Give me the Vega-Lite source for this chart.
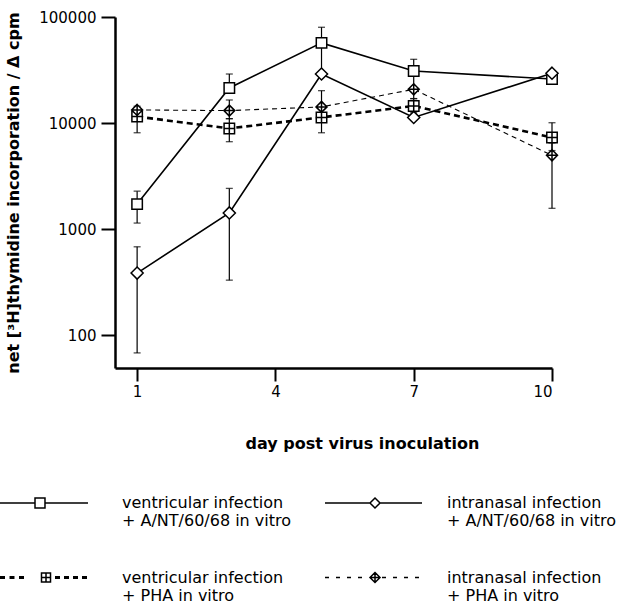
{
  "$schema": "https://vega.github.io/schema/vega-lite/v6.json",
  "width": 437,
  "height": 351,
  "autosize": {"type": "none"},
  "padding": {"left": 115, "top": 17, "right": 67, "bottom": 243},
  "background": "white",
  "config": {
    "view": {"stroke": null},
    "font": "DejaVu Sans",
    "axis": {"labelFont": "DejaVu Sans", "titleFont": "DejaVu Sans", "labelColor": "black", "titleColor": "black", "domainColor": "black", "tickColor": "black", "grid": false}
  },
  "data": {
    "values": [
      {"series": "ventricular infection|+ A/NT/60/68 in vitro", "day": 1, "value": 1720, "lo": 1140, "hi": 2280},
      {"series": "ventricular infection|+ A/NT/60/68 in vitro", "day": 3, "value": 21400, "lo": 21400, "hi": 29000},
      {"series": "ventricular infection|+ A/NT/60/68 in vitro", "day": 5, "value": 57000, "lo": 30000, "hi": 80000},
      {"series": "ventricular infection|+ A/NT/60/68 in vitro", "day": 7, "value": 31000, "lo": 21000, "hi": 39900},
      {"series": "ventricular infection|+ A/NT/60/68 in vitro", "day": 10, "value": 26000, "lo": null, "hi": null},
      {"series": "intranasal infection|+ A/NT/60/68 in vitro", "day": 1, "value": 385, "lo": 68, "hi": 681},
      {"series": "intranasal infection|+ A/NT/60/68 in vitro", "day": 3, "value": 1420, "lo": 330, "hi": 2420},
      {"series": "intranasal infection|+ A/NT/60/68 in vitro", "day": 5, "value": 29000, "lo": null, "hi": null},
      {"series": "intranasal infection|+ A/NT/60/68 in vitro", "day": 7, "value": 11300, "lo": null, "hi": null},
      {"series": "intranasal infection|+ A/NT/60/68 in vitro", "day": 10, "value": 29500, "lo": null, "hi": null},
      {"series": "ventricular infection|+ PHA in vitro", "day": 1, "value": 11500, "lo": 8100, "hi": 13000},
      {"series": "ventricular infection|+ PHA in vitro", "day": 3, "value": 8900, "lo": 6670, "hi": 11000},
      {"series": "ventricular infection|+ PHA in vitro", "day": 5, "value": 11300, "lo": 8100, "hi": 13500},
      {"series": "ventricular infection|+ PHA in vitro", "day": 7, "value": 14500, "lo": 12500, "hi": 17000},
      {"series": "ventricular infection|+ PHA in vitro", "day": 10, "value": 7300, "lo": 5500, "hi": 10070},
      {"series": "intranasal infection|+ PHA in vitro", "day": 1, "value": 13300, "lo": 12000, "hi": 14400},
      {"series": "intranasal infection|+ PHA in vitro", "day": 3, "value": 13100, "lo": 11000, "hi": 16500},
      {"series": "intranasal infection|+ PHA in vitro", "day": 5, "value": 14200, "lo": 12000, "hi": 20200},
      {"series": "intranasal infection|+ PHA in vitro", "day": 7, "value": 20800, "lo": 17000, "hi": 20800},
      {"series": "intranasal infection|+ PHA in vitro", "day": 10, "value": 4960, "lo": 1570, "hi": 6500}
    ]
  },
  "encoding": {
    "x": {
      "field": "day", "type": "quantitative",
      "scale": {"domain": [0.52, 10], "nice": false, "zero": false},
      "axis": {
        "values": [1, 4, 7, 10], "format": "d",
        "title": "day post virus inoculation",
        "titleFontSize": 16, "titleFontWeight": "bold",
        "titleX": 247, "titleY": 75, "titleBaseline": "middle", "titleAlign": "center",
        "labelFontSize": 15, "labelPadding": 3,
        "tickSize": 13, "tickWidth": 2, "domainWidth": 2.5
      }
    },
    "y": {
      "field": "value", "type": "quantitative",
      "scale": {"type": "log", "domain": [49, 100000], "nice": false},
      "axis": {
        "values": [100, 1000, 10000, 100000], "format": "d",
        "title": "net [³H]thymidine incorporation / Δ cpm",
        "titleFontSize": 16, "titleFontWeight": "bold", "titlePadding": 17,
        "labelFontSize": 15, "labelPadding": 5,
        "tickSize": 14, "tickWidth": 2, "domainWidth": 2.5
      }
    }
  },
  "resolve": {"scale": {"shape": "independent"}},
  "layer": [
    {
      "transform": [{"filter": "isValid(datum.lo)"}],
      "mark": {"type": "errorbar", "color": "black", "ticks": {"size": 7, "thickness": 1.3}, "rule": {"strokeWidth": 1.2}},
      "encoding": {
        "y": {"field": "lo", "type": "quantitative"},
        "y2": {"field": "hi"},
        "detail": {"field": "series"}
      }
    },
    {
      "transform": [{"filter": {"field": "series", "oneOf": ["ventricular infection|+ A/NT/60/68 in vitro", "intranasal infection|+ A/NT/60/68 in vitro"]}}],
      "mark": {"type": "line", "color": "black", "strokeWidth": 1.6},
      "encoding": {"detail": {"field": "series"}}
    },
    {
      "transform": [{"filter": {"field": "series", "equal": "ventricular infection|+ PHA in vitro"}}],
      "mark": {"type": "line", "color": "black", "strokeWidth": 2.6, "strokeDash": [6, 4]},
      "encoding": {"detail": {"field": "series"}}
    },
    {
      "transform": [{"filter": {"field": "series", "equal": "intranasal infection|+ PHA in vitro"}}],
      "mark": {"type": "line", "color": "black", "strokeWidth": 1.1, "strokeDash": [5, 4]},
      "encoding": {"detail": {"field": "series"}}
    },
    {
      "mark": {"type": "point", "filled": true, "fill": "white", "stroke": "black", "strokeWidth": 1.5, "size": 121, "opacity": 1},
      "encoding": {
        "shape": {
          "field": "series", "type": "nominal",
          "scale": {
            "domain": ["ventricular infection|+ A/NT/60/68 in vitro", "ventricular infection|+ PHA in vitro", "intranasal infection|+ A/NT/60/68 in vitro", "intranasal infection|+ PHA in vitro"],
            "range": [
              "M-0.95,-0.95H0.95V0.95H-0.95Z",
              "M-0.95,-0.95H0.95V0.95H-0.95ZM-0.95,0H0.95M0,-0.95V0.95",
              "M0,-1.1L1.1,0L0,1.1L-1.1,0Z",
              "M0,-1L1,0L0,1L-1,0ZM-1,0H1M0,-1V1"
            ]
          },
          "legend": null
        }
      }
    },
    {
      "mark": {"type": "point", "filled": true, "fill": "white", "stroke": "black", "strokeWidth": 1.5, "size": 8464, "opacity": 0},
      "encoding": {
        "shape": {
          "field": "series", "type": "nominal",
          "scale": {
            "domain": ["ventricular infection|+ A/NT/60/68 in vitro", "ventricular infection|+ PHA in vitro", "intranasal infection|+ A/NT/60/68 in vitro", "intranasal infection|+ PHA in vitro"],
            "range": [
              "M-1,0H-0.239M-0.022,0H0.913M-0.239,-0.109H-0.022V0.109H-0.239Z",
              "M-1,-0.016H-0.891M-1,0.016H-0.891M-0.793,-0.016H-0.685M-0.793,0.016H-0.685M-0.587,-0.016H-0.478M-0.587,0.016H-0.478M0.196,-0.016H0.304M0.196,0.016H0.304M0.391,-0.016H0.5M0.391,0.016H0.5M0.587,-0.016H0.696M0.587,0.016H0.696M0.783,-0.016H0.891M0.783,0.016H0.891M-0.098,-0.098H0.098V0.098H-0.098ZM-0.098,0H0.098M0,-0.098V0.098",
              "M-1,0H-0.022M0.196,0H1.109M0.087,-0.109L0.196,0L0.087,0.109L-0.022,0Z",
              "M-1,0H-0.913M-0.761,0H-0.674M-0.522,0H-0.435M-0.283,0H-0.196M0.239,0H0.326M0.478,0H0.565M0.717,0H0.804M0.957,0H1.043M0.087,-0.109L0.196,0L0.087,0.109L-0.022,0ZM-0.022,0H0.196M0.087,-0.109V0.109"
            ]
          },
          "legend": {
            "orient": "none", "legendX": -115, "legendY": 439,
            "title": null, "columns": 2,
            "symbolSize": 8464, "symbolOffset": -1, "labelOffset": 29,
            "symbolOpacity": 1,
            "columnPadding": 30, "rowPadding": 1.5,
            "labelFont": "DejaVu Sans", "labelFontSize": 16, "labelColor": "black", "labelLimit": 400,
            "labelExpr": "split(datum.label, '|')"
          }
        }
      }
    }
  ]
}
